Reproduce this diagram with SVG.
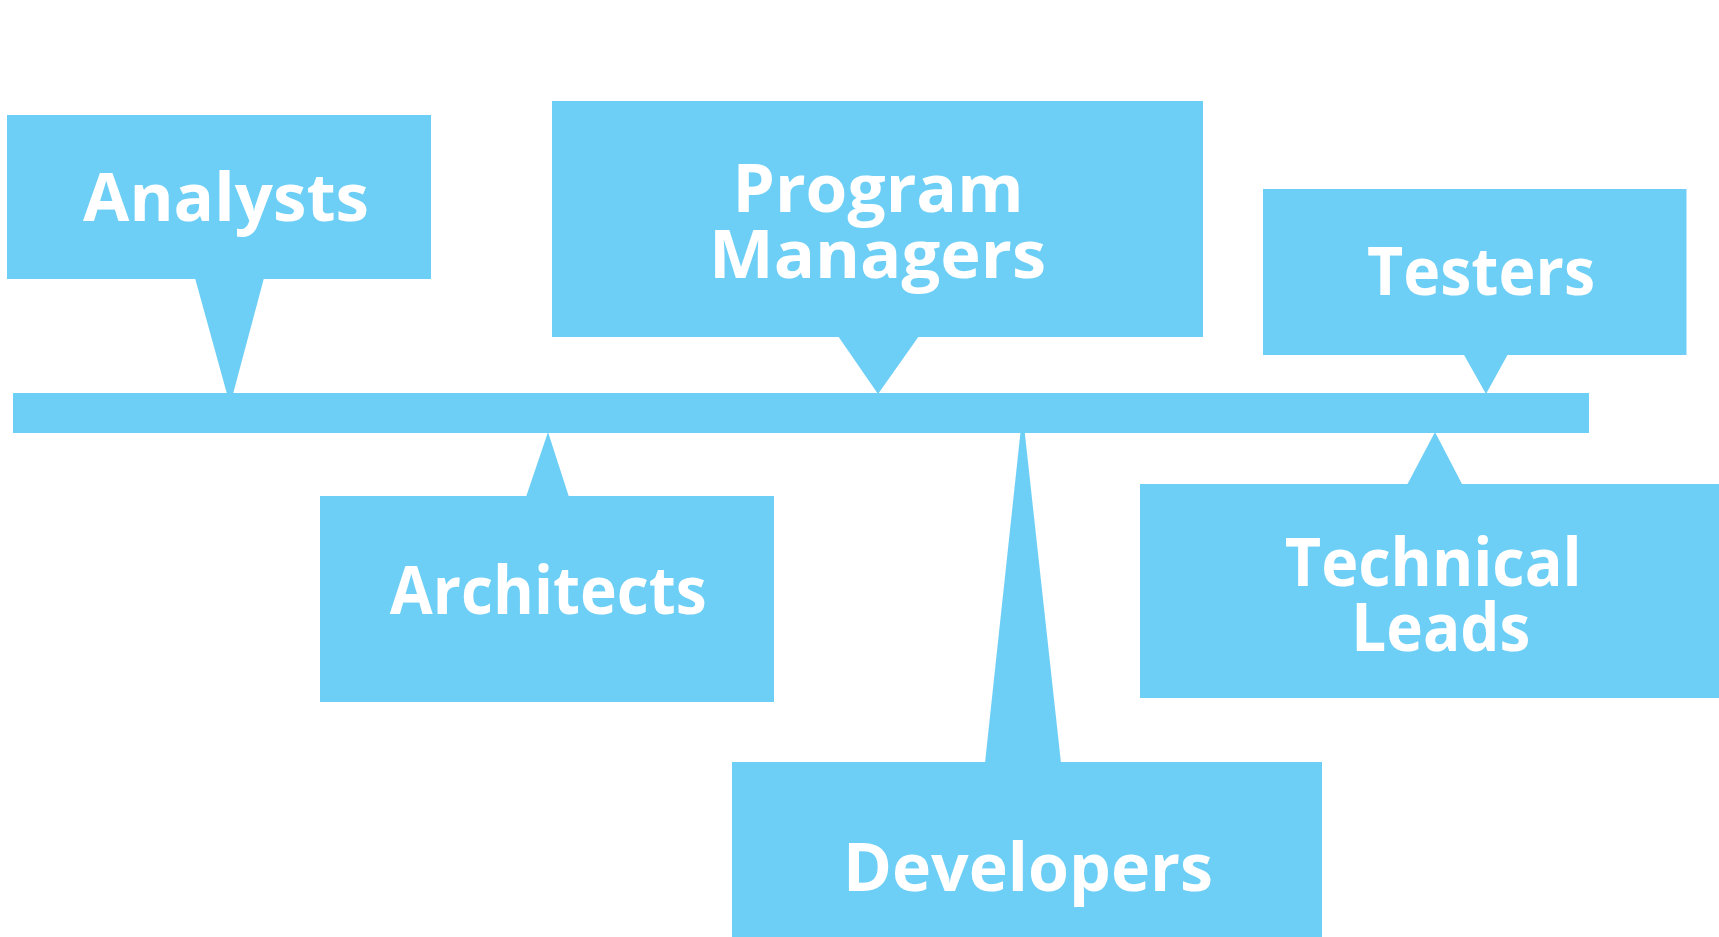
<svg xmlns="http://www.w3.org/2000/svg" width="1719" height="937" viewBox="0 0 1719 937">
<style>
.shape{fill:#6ECFF6;stroke:none}
.lbl{font-family:"Open Sans","Liberation Sans",sans-serif;font-weight:700;font-size:66px;fill:#FFFFFF;text-anchor:middle}
</style>
<rect x="0" y="0" width="1719" height="937" fill="#FFFFFF"/>
<g id="timeline">
<rect class="shape" x="13" y="393" width="1576" height="40"/>
</g>
<g id="connectors">
<polygon class="shape" points="195,278 264,278 233,394 227,394"/>
<polygon class="shape" points="838,336 919,336 878,394"/>
<polygon class="shape" points="1463.5,354 1508,354 1486,394"/>
<polygon class="shape" points="548,432 526,497 569,497"/>
<polygon class="shape" points="1020.5,432 1024.7,432 1061,763 985,763"/>
<polygon class="shape" points="1435,432 1407,485 1462.5,485"/>
</g>
<g id="analysts">
<rect class="shape" x="7" y="115" width="424" height="164"/>
<text class="lbl" x="226" y="221" textLength="286" lengthAdjust="spacingAndGlyphs">Analysts</text>
</g>
<g id="program-managers">
<rect class="shape" x="552" y="101" width="651" height="236"/>
<text class="lbl" x="878" y="211.5" textLength="291" lengthAdjust="spacingAndGlyphs">Program</text>
<text class="lbl" x="877.5" y="277.5" textLength="337" lengthAdjust="spacingAndGlyphs">Managers</text>
</g>
<g id="testers">
<rect class="shape" x="1263" y="189" width="423.5" height="166"/>
<text class="lbl" x="1481" y="295" textLength="228" lengthAdjust="spacingAndGlyphs">Testers</text>
</g>
<g id="architects">
<rect class="shape" x="320" y="496" width="454" height="206"/>
<text class="lbl" x="548.3" y="614.3" textLength="317" lengthAdjust="spacingAndGlyphs">Architects</text>
</g>
<g id="developers">
<rect class="shape" x="732" y="762" width="590" height="175"/>
<text class="lbl" x="1028" y="891" textLength="370" lengthAdjust="spacingAndGlyphs">Developers</text>
</g>
<g id="technical-leads">
<rect class="shape" x="1140" y="484" width="579" height="214"/>
<text class="lbl" x="1433.3" y="585.7" textLength="297" lengthAdjust="spacingAndGlyphs">Technical</text>
<text class="lbl" x="1440.8" y="651" textLength="179" lengthAdjust="spacingAndGlyphs">Leads</text>
</g>
</svg>
